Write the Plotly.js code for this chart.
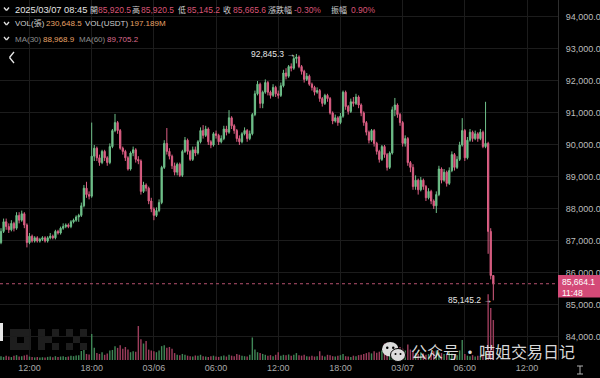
<!DOCTYPE html>
<html><head><meta charset="utf-8">
<script src="https://cdn.plot.ly/plotly-3.0.1.min.js"></script>
<style>html,body{margin:0;padding:0;background:#000;}#chart{width:600px;height:378px;}</style>
</head><body><div id="chart"></div>
<script>
// ---------------- data ----------------
const startTime = '2025-03-05T09:15:00Z';   // first visible 15m candle
const intervalMin = 15;
const firstOpen = 86950;
const closes = [
 87300,87600,87450,87350,87550,87400,87800,87650,87850,87500,
 86950,87150,87000,87100,87000,87050,87100,87000,87100,87150,
 87100,87300,87250,87400,87450,87500,87450,87600,87650,87750,
 87800,88100,88650,88450,88400,89650,89900,89600,89450,89800,
 89600,89450,89950,90450,90700,90450,89900,89800,89600,89250,
 89750,89850,89550,89500,88550,88750,88650,88250,88000,87800,
 87950,88200,89300,90050,89800,89650,89350,89150,89400,89050,
 89800,90150,89800,89550,89850,89750,90100,90450,90300,90500,
 90100,90000,90350,90300,90100,90200,90500,90400,90850,90600,
 90450,90200,90100,90350,90450,90200,90350,90950,91600,91900,
 91300,91650,91950,91650,91550,91800,91600,91550,91850,92250,
 92150,92450,92400,92700,92750,92450,92300,92050,92150,91900,
 91800,91650,91700,91450,91300,91550,91450,91000,90750,90850,
 90700,90900,91650,91200,91050,91350,91300,91500,91250,91000,
 90700,90400,90150,90450,90050,89800,89550,89950,89700,89300,
 89750,91100,91250,90950,90700,90050,90200,89450,89300,88700,
 88900,88600,88900,88700,88350,88550,88250,88100,88450,89250,
 88900,89150,88800,89200,89700,89300,89550,90000,90450,89600,
 90150,90400,90200,90350,90200,90400,89950,90050,87300,85920.5,
 85665.6];
const highs = [
 87400,87700,87700,87550,87650,87600,87900,87900,87950,87900,
 87550,87250,87200,87150,87150,87100,87150,87150,87150,87250,
 87200,87350,87350,87450,87550,87550,87550,87650,87700,87800,
 87850,88200,88750,88850,88550,90700,90000,89950,89700,89850,
 89850,89650,90050,90500,90970,90750,90500,89950,89850,89650,
 89800,89950,89900,89650,89550,88850,88800,88700,88350,88050,
 88050,88300,89350,90150,90530,89900,89700,89450,89450,89450,
 89850,90250,90200,89850,89950,89950,90150,90550,90620,90600,
 90550,90150,90400,90450,90350,90300,90600,90600,91090,90900,
 90650,90500,90300,90400,90550,90500,90450,91000,91700,92000,
 91950,91700,92050,92000,91700,91900,91850,91700,91950,92350,
 92400,92500,92550,92800,92845.3,92800,92500,92350,92250,92200,
 91950,91850,91800,91750,91500,91600,91600,91500,91050,90950,
 90900,91000,91700,91700,91250,91450,91500,91600,91550,91300,
 91050,90750,90450,90500,90500,90100,89850,90000,90000,89750,
 89800,91200,91470,91300,91000,90750,90300,90250,89500,89400,
 89050,88950,89000,88950,88750,88650,88600,88300,88550,89350,
 89300,89250,89200,89300,89800,89750,89650,90100,90840,90500,
 90250,90500,90450,90450,90400,90500,90450,91350,90100,87400,
 85920.5];
const lows = [
 86900,87250,87350,87250,87300,87300,87350,87550,87600,87400,
 86800,86900,86950,86950,86950,86950,87000,86950,86950,87050,
 87050,87050,87200,87200,87350,87400,87400,87400,87550,87600,
 87600,87750,88050,88350,88300,88350,89500,89500,89350,89400,
 89500,89350,89400,89900,90400,90350,89850,89700,89500,89200,
 89200,89650,89450,89400,88450,88500,88550,88150,87900,87650,
 87750,87900,88150,89250,89700,89550,89250,89050,89050,89000,
 89000,89750,89700,89500,89500,89650,89700,90050,90200,90250,
 90000,89900,89950,90200,90000,90050,90150,90300,90350,90500,
 90350,90100,90000,90050,90300,90100,90150,90300,90900,91550,
 91150,91150,91600,91550,91450,91500,91500,91450,91500,91800,
 92050,92100,92300,92350,92550,92400,92200,91950,92000,91850,
 91700,91550,91600,91350,91200,91250,91350,90950,90650,90700,
 90600,90650,90850,91100,90950,91000,91200,91250,91150,90900,
 90600,90300,90050,90100,89950,89700,89450,89500,89600,89200,
 89250,89700,90900,90850,90600,89950,89950,89350,89150,88600,
 88600,88450,88550,88600,88250,88300,88150,88000,87875,88400,
 88800,88850,88700,88750,89150,89200,89250,89500,89950,89500,
 89550,90100,90100,90150,90100,90150,89900,89900,86600,85800,
 85145.2];
// volume, thousand contracts (張)
const volumes = [
 22,18,25,20,17,24,28,20,22,26,
 30,20,18,15,17,14,16,15,18,20,
 16,22,18,20,22,18,20,24,22,26,
 28,52,58,35,32,150,70,40,35,45,
 30,38,55,58,80,70,85,65,75,60,
 45,50,48,196,120,95,110,60,55,50,
 45,55,80,85,70,75,65,40,30,28,
 35,30,25,22,20,26,24,30,22,20,
 18,22,25,20,18,22,26,20,30,25,
 22,35,30,25,22,20,30,130,60,45,
 40,35,30,25,28,22,30,45,25,30,
 28,32,25,30,40,28,25,30,22,20,
 25,20,22,50,25,20,30,28,22,20,
 25,28,35,22,20,18,25,22,28,30,
 35,40,45,38,50,42,48,55,95,100,
 70,80,60,60,75,65,55,90,60,50,
 40,35,45,38,30,35,40,50,55,45,
 40,35,30,45,38,30,28,55,115,35,
 25,22,28,20,25,22,30,45,380,300,
 230.6];
const xTickTimes = ['2025-03-05 12:00','2025-03-05 18:00','2025-03-06 00:00','2025-03-06 06:00',
  '2025-03-06 12:00','2025-03-06 18:00','2025-03-07 00:00','2025-03-07 06:00','2025-03-07 12:00'];
const xTickLabels = ['12:00','18:00','03/06','06:00','12:00','18:00','03/07','06:00','12:00'];
const lastPrice = 85664.1;
const lastPriceClock = '11:48';
const highMark = 92845.3, highMarkIndex = 114;
const lowMark = 85145.2, lowMarkIndex = 190;

// ---------------- build ----------------
const t0 = Date.parse(startTime);
const times = closes.map((_, i) => new Date(t0 + i*intervalMin*60000).toISOString().slice(0,16).replace('T',' '));
const opens = closes.map((c, i) => i === 0 ? firstOpen : closes[i-1]);

const UP = '#6fc08a', DN = '#dc5f84';
const VUP = '#3f8656', VDN = '#9c3d5c';
const volColors = closes.map((c,i) => c >= opens[i] ? VUP : VDN);

const W = 600, H = 378, ML = 0, MR = 42, MT = 0, MB = 18;
const PW = W - ML - MR, PH = H - MT - MB;
const px = v => (v - ML) / PW;
const py = v => 1 - (v - MT) / PH;
const FONT = 'Liberation Sans, Arial, Noto Sans CJK TC, sans-serif';

const ann = [];
function txt(x, y, text, color, size, anchor, family) {
  ann.push({xref:'paper', yref:'paper', x:px(x), y:py(y), text:text, showarrow:false,
    xanchor:anchor||'left', yanchor:'middle', borderpad:0, borderwidth:0,
    font:{family:family||FONT, size:size||8.5, color:color}});
}
const RED = '#d85475', ORG = '#e7a267', LBL = '#cfcfcf', GRY = '#8e8e8e';
const CJ = 'Noto Sans CJK TC';
// header line 1
txt(15, 9.5, '2025/03/07 08:45', '#e4e4e4', 9.3);
txt(90, 9.5, '開', LBL, 8, 'left', CJ);   txt(97.5, 9.5, '85,920.5', RED);
txt(132, 9.5, '高', LBL, 8, 'left', CJ);  txt(141, 9.5, '85,920.5', RED);
txt(177.5, 9.5, '低', LBL, 8, 'left', CJ); txt(187, 9.5, '85,145.2', RED);
txt(223, 9.5, '收', LBL, 8, 'left', CJ);  txt(233, 9.5, '85,665.6', RED);
txt(268, 9.5, '漲跌幅', LBL, 8, 'left', CJ); txt(294, 9.5, '-0.30%', RED);
txt(331, 9.5, '振幅', LBL, 8, 'left', CJ);  txt(351, 9.5, '0.90%', RED);
// line 2
txt(15, 24, 'VOL(張)', LBL, 8); txt(46, 24, '230,648.5', ORG, 8);
txt(85, 24, 'VOL(USDT)', LBL, 8); txt(130, 24, '197.189M', ORG, 8);
// line 3
txt(15, 39, 'MA(30)', GRY, 8); txt(43, 39, '88,968.9', ORG, 8);
txt(79, 39, 'MA(60)', GRY, 8); txt(107, 39, '89,705.2', '#dc6c8e', 8);
// price tag
txt(562, 282, '85,664.1', '#ffffff', 8.5);
txt(562, 292.5, lastPriceClock, '#ffffff', 8.5);
// watermark
const WM = 'rgba(238,238,238,0.92)', WF = 'Noto Sans CJK SC';
txt(411, 350.5, '公众号', WM, 16, 'left', WF);
txt(469.5, 350.5, '·', WM, 16, 'center', WF);
txt(479, 350.5, '喵姐交易日记', WM, 16, 'left', WF);
// high / low marks
ann.push({xref:'x', yref:'y', x:times[highMarkIndex], y:highMark, text:'92,845.3 →', showarrow:false,
  xanchor:'right', yanchor:'middle', borderwidth:0, font:{family:FONT, size:8.5, color:'#e6e6e6'}});
ann.push({xref:'x', yref:'y', x:times[lowMarkIndex], y:lowMark, text:'85,145.2 →', showarrow:false,
  xanchor:'right', yanchor:'middle', borderwidth:0, font:{family:FONT, size:8.5, color:'#e6e6e6'}});

const shapes = [];
function rect(x0,y0,x1,y1,fill,layer){shapes.push({type:'rect',xref:'paper',yref:'paper',x0:px(x0),x1:px(x1),y0:py(y1),y1:py(y0),fillcolor:fill,line:{width:0},layer:layer||'above'});}
function seg(x0,y0,x1,y1,color,w){shapes.push({type:'line',xref:'paper',yref:'paper',x0:px(x0),x1:px(x1),y0:py(y0),y1:py(y1),line:{color:color,width:w||1}});}
function circ(x0,y0,x1,y1,fill,lc){shapes.push({type:'circle',xref:'paper',yref:'paper',x0:px(x0),x1:px(x1),y0:py(y1),y1:py(y0),fillcolor:fill,line:{color:lc||'rgba(0,0,0,0)',width:lc?1:0},layer:'above'});}
// OKX block logo (faint)
const LG = '#1e1e1e', u = 7, ly = 329;
[[0,0],[1,0],[2,0],[0,1],[2,1],[0,2],[1,2],[2,2]].forEach(c=>rect(10+c[0]*u, ly+c[1]*u, 10+(c[0]+1)*u, ly+(c[1]+1)*u, LG,'below'));
[[0,0],[0,1],[0,2],[1,1],[2,0],[2,2]].forEach(c=>rect(38+c[0]*u, ly+c[1]*u, 38+(c[0]+1)*u, ly+(c[1]+1)*u, LG,'below'));
[[0,0],[2,0],[1,1],[0,2],[2,2]].forEach(c=>rect(66+c[0]*u, ly+c[1]*u, 66+(c[0]+1)*u, ly+(c[1]+1)*u, LG,'below'));
// current price dotted line
shapes.push({type:'line', xref:'paper', x0:0, x1:1, yref:'y', y0:lastPrice, y1:lastPrice,
  line:{color:'#b5506f', width:1, dash:'dot'}});
// price tag box
rect(558, 275, 600, 297.5, '#d44a78');
// header chevrons
[9.5, 24, 39].forEach(y => { seg(4, y-2, 6.5, y+1, '#e0e0e0', 1.3); seg(6.5, y+1, 9, y-2, '#e0e0e0', 1.3); });
// left "<" button
seg(14, 52, 9.5, 57.5, '#e8e8e8', 1.3); seg(9.5, 57.5, 14, 63, '#e8e8e8', 1.3);
// bottom-left white tab
rect(0, 323, 3, 341, '#e6e6e6');
// wechat icon
circ(382, 342, 398.5, 356.5, '#dcdcdc');
circ(390.5, 348.5, 405.5, 361.5, '#dcdcdc', '#000');
circ(386, 346.5, 388.5, 349, '#000'); circ(392, 346.5, 394.5, 349, '#000');
circ(394.5, 353, 396.5, 355, '#000'); circ(399.5, 353, 401.5, 355, '#000');
// cursor glyph bottom-right
seg(580, 366, 580, 374, '#b0b0b0'); seg(577, 366, 583, 366, '#b0b0b0'); seg(577, 374, 583, 374, '#b0b0b0');

const traces = [
  {type:'bar', x:times, y:volumes, yaxis:'y2', marker:{color:volColors, line:{width:0}},
   width: times.map(()=> intervalMin*60000*0.55), hoverinfo:'skip'},
  {type:'candlestick', x:times, open:opens, high:highs, low:lows, close:closes,
   increasing:{line:{color:UP, width:1}, fillcolor:UP},
   decreasing:{line:{color:DN, width:1}, fillcolor:DN},
   whiskerwidth:0, hoverinfo:'skip'}
];

const layout = {
  width:W, height:H, margin:{l:ML, r:MR, t:MT, b:MB, pad:0},
  paper_bgcolor:'#000', plot_bgcolor:'#000', showlegend:false, hovermode:false,
  font:{family:FONT, color:'#bbbbbb'},
  xaxis:{type:'date', range:['2025-03-05 09:09:14','2025-03-07 14:59:24'],
    tickmode:'array', tickvals:xTickTimes, ticktext:xTickLabels,
    showgrid:true, gridcolor:'#1c1c1c', gridwidth:1, zeroline:false, showline:false,
    ticks:'', ticklabelstandoff:1, tickfont:{size:9, color:'#a9a9a9'}, rangeslider:{visible:false}, fixedrange:true},
  yaxis:{side:'right', range:[83281, 94531], tickmode:'linear', tick0:84000, dtick:1000,
    tickformat:',.1f', showgrid:true, gridcolor:'#1c1c1c', zeroline:false,
    showline:true, linecolor:'#2e2e2e', ticks:'', ticklabelstandoff:5,
    tickfont:{size:9, color:'#bdbdbd'}, fixedrange:true},
  yaxis2:{overlaying:'y', range:[0, 2077], visible:false, fixedrange:true},
  annotations:ann, shapes:shapes
};
Plotly.newPlot('chart', traces, layout, {displayModeBar:false, staticPlot:true});
</script></body></html>
